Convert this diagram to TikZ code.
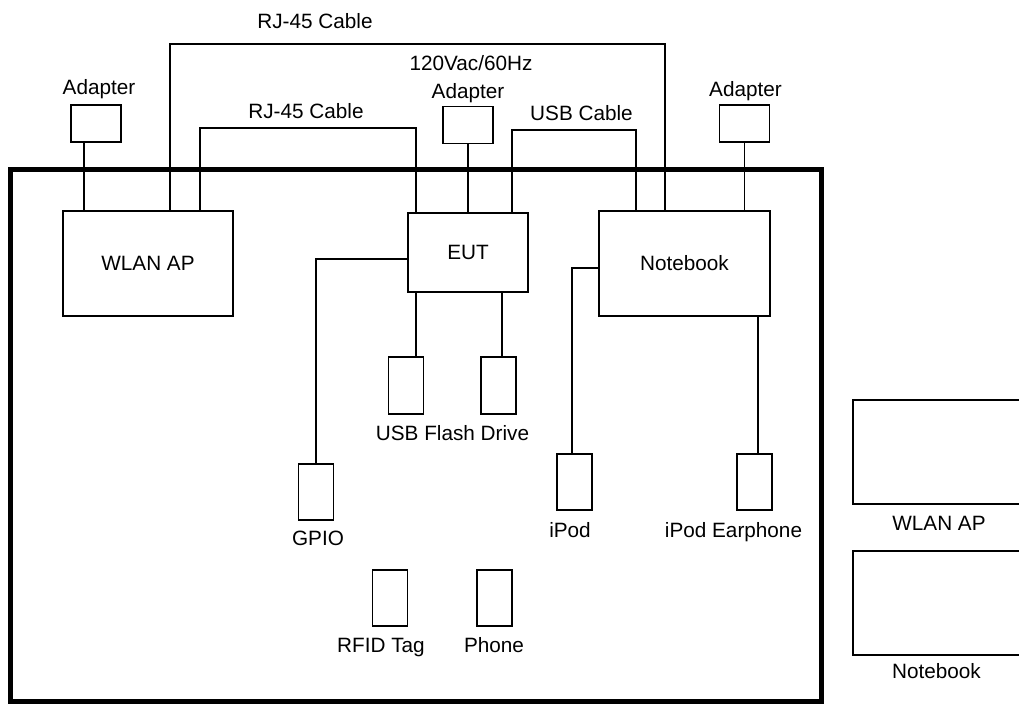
\documentclass[tikz,border=0pt]{standalone}
\usepackage{fontspec}
\setmainfont{Liberation Sans}
\usetikzlibrary{calc}
\newcommand{\lblfont}{\fontsize{11.8}{14}\selectfont}

\begin{document}
\begin{tikzpicture}[x=0.02cm, y=-0.02cm, line width=1.1pt,
  adapter/.style={draw, inner sep=0pt, minimum width=1.0cm, minimum height=0.74cm},
  unit/.style={draw, inner sep=0pt, font=\lblfont},
  dev/.style={draw, inner sep=0pt, minimum width=0.7cm, minimum height=1.13cm},
  txt/.style={font=\lblfont, anchor=base, inner sep=0pt}]

% Page
\clip (0,0) rectangle (1019,704);

% Test room
\draw[line width=2.8pt] (10.8,169.3) rectangle (821.5,701.5);

% Adapters
\node[adapter] (adL) at (96,123.5) {};
\node[adapter] (adE) at (468,125) {};
\node[adapter] (adN) at (744.5,123.5) {};
\node[txt] (tadL) at (99,94) {Adapter};
\node[txt] (tpow) at (471,70) {120Vac/60Hz};
\node[txt] (tadE) at (468,98) {Adapter};
\node[txt] (tadN) at (745.5,96.5) {Adapter};

% Main units
\node[unit, minimum width=3.4cm, minimum height=2.1cm] (wlan) at (148,263.5) {WLAN AP};
\node[unit, minimum width=2.4cm, minimum height=1.58cm] (eut) at (468,252.5) {EUT};
\node[unit, minimum width=3.42cm, minimum height=2.1cm] (nb) at (684.5,263.5) {Notebook};

% Peripherals
\node[dev] (usb1) at (406,385.5) {};
\node[dev] (usb2) at (498.5,385.5) {};
\node[dev] (gpio) at (316,492) {};
\node[dev] (ipod) at (574.5,482) {};
\node[dev] (iear) at (754.5,482) {};
\node[dev] (rfid) at (390,598) {};
\node[dev] (phone) at (494.5,598) {};
\node[txt] (tusb) at (452.5,440) {USB Flash Drive};
\node[txt] (tgpio) at (318,545) {GPIO};
\node[txt] (tipod) at (570,537) {iPod};
\node[txt] (tiear) at (733.5,537) {iPod Earphone};
\node[txt] (trfid) at (381,652) {RFID Tag};
\node[txt] (tphone) at (494,652) {Phone};

% Cables
\node[txt] (trj1) at (315,28) {RJ-45 Cable};
\node[txt] (trj2) at (306,118) {RJ-45 Cable};
\node[txt] (tusbc) at (581.5,120) {USB Cable};
\draw ($(wlan.north west)+(108,0)$) -- ++(0,-166) -| ($(nb.north west)+(67,0)$);
\draw ($(wlan.north west)+(138,0)$) -- ++(0,-82) -| ($(eut.north west)+(9,0)$);
\draw ($(eut.north west)+(105,0)$) -- ++(0,-82) -| ($(nb.north west)+(38,0)$);

% Power
\draw ($(wlan.north west)+(22,0)$) coordinate (pL) -- (pL |- adL.south);
\draw (adE.south) -- (adE.south |- eut.north);
\draw (adN.south) -- (adN.south |- nb.north);

% Peripheral links
\draw ($(eut.west)+(0,6.5)$) -| (gpio.north);
\draw ($(eut.south west)+(9,0)$) coordinate (e1) -- (e1 |- usb1.north);
\draw ($(eut.south west)+(95,0)$) coordinate (e2) -- (e2 |- usb2.north);
\draw ($(nb.west)+(0,4.5)$) -| ($(ipod.north)+(-2.5,0)$);
\draw ($(nb.south west)+(160,0)$) coordinate (n1) -- (n1 |- iear.north);

% Legend
\node[draw, inner sep=0pt, minimum width=3.54cm, minimum height=2.08cm] (legW) at (941.5,452) {};
\node[draw, inner sep=0pt, minimum width=3.54cm, minimum height=2.08cm] (legN) at (941.5,603) {};
\node[txt] (tlegW) at (939,530) {WLAN AP};
\node[txt] (tlegN) at (936.5,678) {Notebook};

\end{tikzpicture}
\end{document}
